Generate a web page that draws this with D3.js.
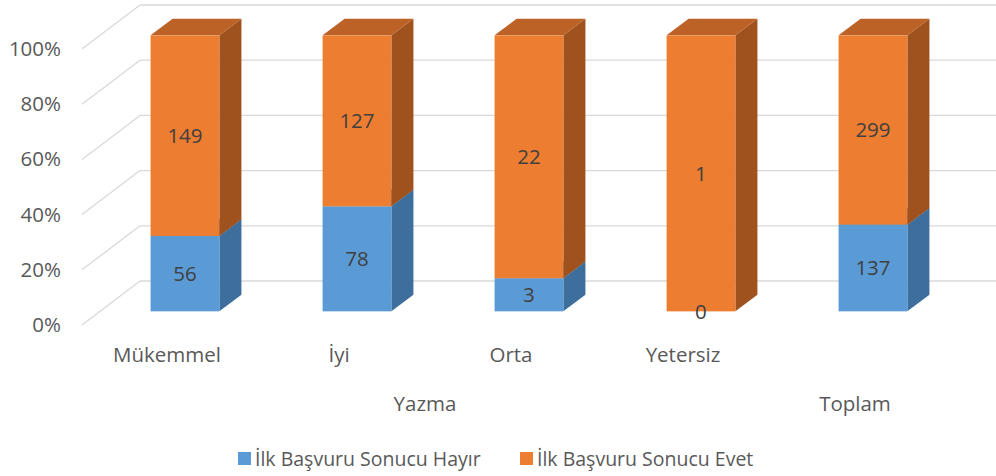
<!DOCTYPE html>
<html>
<head>
<meta charset="utf-8">
<script src="https://cdn.jsdelivr.net/npm/d3@7/dist/d3.min.js"></script>
<style>
  html, body { margin: 0; padding: 0; background: #fff; }
  svg { display: block; font-family: "Open Sans", sans-serif; }
</style>
</head>
<body>
<svg id="chart" width="996" height="476"></svg>
<script>
// ---- data ----
const categories = ["Mükemmel", "İyi", "Orta", "Yetersiz", ""];
const groupLabels = ["Yazma", "Toplam"];
const groupSpans = [4, 1];
const seriesNames = ["İlk Başvuru Sonucu Hayır", "İlk Başvuru Sonucu Evet"];
const hayir = [56, 78, 3, 0, 137];
const evet = [149, 127, 22, 1, 299];
const yTicks = [0, 0.2, 0.4, 0.6, 0.8, 1.0];

// ---- styling ----
const frontColors = ["#5B9BD5", "#ED7D31"];
const sideColors = ["#3E6E9B", "#A0521E"];
const topColors = ["#4A80B2", "#BD6226"];
const gridColor = "#D9D9D9";
const axisText = "#595959";
const labelText = "#404040";

const svg = d3.select("#chart");
const W = 996, H = 476;

// 3D oblique projection
const DEPTH_X = 58, DEPTH_Y = -44;
const barD0 = 0.31, barD1 = 0.69;
function proj(px, py, d) { return [px + d * DEPTH_X, py + d * DEPTH_Y]; }

const idxs = categories.map((c, i) => i);
const x = d3.scaleBand().domain(idxs).range([81, 941]).paddingInner(0.6).paddingOuter(0.3);
const y = d3.scaleLinear().domain([0, 1]).range([325, 49]);

// ---- gridlines (side wall diagonals + back wall horizontals) ----
const grid = svg.append("g");
yTicks.forEach(t => {
  const p0 = proj(82, y(t), 0);
  const p1 = proj(82, y(t), 1);
  grid.append("line").attr("x1", p0[0]).attr("y1", p0[1]).attr("x2", p1[0]).attr("y2", p1[1])
    .attr("stroke", gridColor).attr("stroke-width", 1.3);
  grid.append("line").attr("x1", p1[0]).attr("y1", p1[1]).attr("x2", W).attr("y2", p1[1])
    .attr("stroke", gridColor).attr("stroke-width", 1.3);
});

// ---- y axis ----
const yAxis = d3.axisLeft(y).tickValues(yTicks).tickFormat(d3.format(".0%")).tickSize(0).tickPadding(0);
const yg = svg.append("g").attr("transform", "translate(61,0)").call(yAxis);
yg.select(".domain").remove();
yg.selectAll("text").attr("fill", axisText).style("font-size", "20.5px").style("font-family", "'Open Sans', sans-serif");

// ---- bars ----
const bars = svg.append("g");
idxs.forEach(i => {
  const total = hayir[i] + evet[i];
  const segs = [
    { s: 0, v: hayir[i], y0: 0, y1: hayir[i] / total },
    { s: 1, v: evet[i], y0: hayir[i] / total, y1: 1 }
  ];
  const xl = x(i), xr = x(i) + x.bandwidth();
  segs.forEach(sg => {
    const yb = y(sg.y0), yt = y(sg.y1);
    if (sg.y1 > sg.y0) {
      const side = [proj(xr, yb, barD0), proj(xr, yb, barD1), proj(xr, yt, barD1), proj(xr, yt, barD0)];
      bars.append("polygon").attr("points", side.map(p => p.join(",")).join(" ")).attr("fill", sideColors[sg.s]);
      const top = [proj(xl, yt, barD0), proj(xl, yt, barD1), proj(xr, yt, barD1), proj(xr, yt, barD0)];
      bars.append("polygon").attr("points", top.map(p => p.join(",")).join(" ")).attr("fill", topColors[sg.s]);
      const f0 = proj(xl, yt, barD0);
      bars.append("rect").attr("x", f0[0]).attr("y", f0[1]).attr("width", x.bandwidth()).attr("height", yb - yt)
        .attr("fill", frontColors[sg.s]);
    }
  });
  segs.forEach(sg => {
    const cy = (y(sg.y0) + y(sg.y1)) / 2;
    const p = proj(xl + x.bandwidth() / 2, cy, barD0);
    bars.append("text").attr("x", p[0]).attr("y", p[1]).attr("dy", "0.35em")
      .attr("text-anchor", "middle").attr("fill", labelText).style("font-size", "20.5px")
      .text(sg.v);
  });
});

// ---- category axis (two levels) ----
const catG = svg.append("g");
idxs.forEach(i => {
  catG.append("text").attr("x", x(i) + x.bandwidth() / 2).attr("y", 355).attr("dy", "0.35em")
    .attr("text-anchor", "middle").attr("fill", axisText).style("font-size", "20.5px").text(categories[i]);
});
let start = 0;
groupLabels.forEach((g, gi) => {
  const first = start, last = start + groupSpans[gi] - 1;
  const cx = (x(first) + x(last) + x.bandwidth()) / 2;
  catG.append("text").attr("x", cx).attr("y", 404).attr("dy", "0.35em")
    .attr("text-anchor", "middle").attr("fill", axisText).style("font-size", "20.5px").text(g);
  start += groupSpans[gi];
});

// ---- legend ----
const leg = svg.append("g");
const legX = [238, 520];
seriesNames.forEach((n, i) => {
  leg.append("rect").attr("x", legX[i]).attr("y", 452).attr("width", 13).attr("height", 13).attr("fill", frontColors[i]);
  leg.append("text").attr("x", legX[i] + 17).attr("y", 459).attr("dy", "0.35em")
    .attr("fill", axisText).style("font-size", "19.5px").text(n);
});
</script>
</body>
</html>
